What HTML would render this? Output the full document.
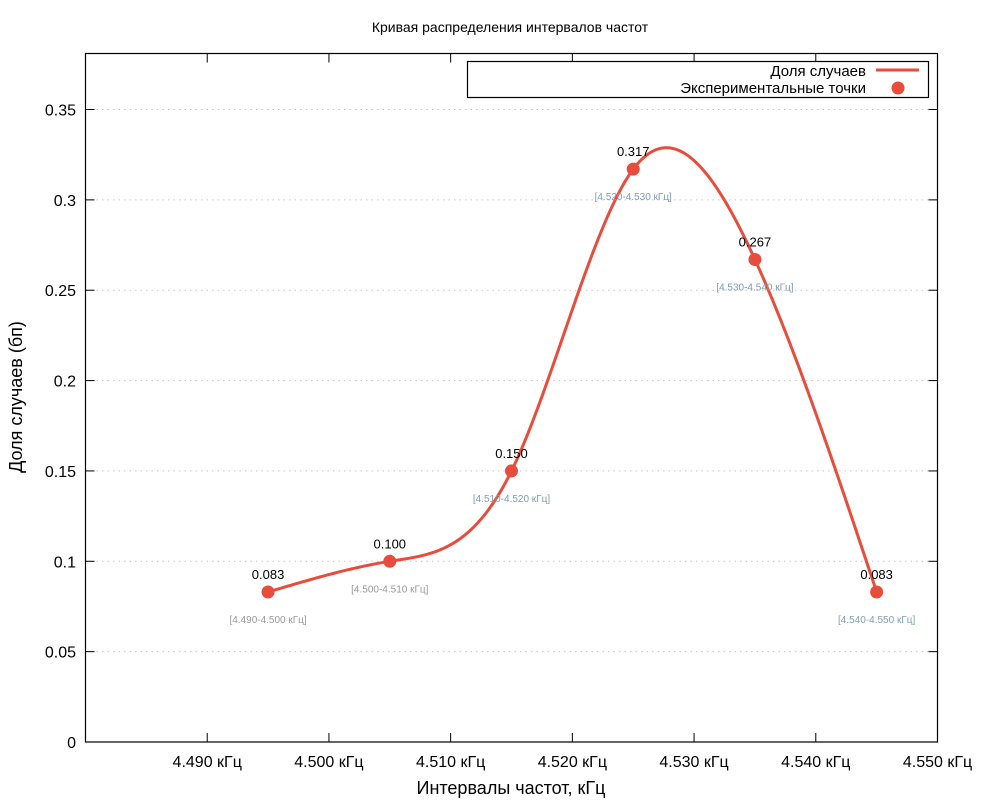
<!DOCTYPE html>
<html><head><meta charset="utf-8"><style>
body{margin:0;background:#fff;}
svg{display:block;font-family:"Liberation Sans",sans-serif;}
</style></head><body>
<svg id="c" width="1000" height="800"></svg>
<script>
const categories=["[4.490-4.500 кГц]","[4.500-4.510 кГц]","[4.510-4.520 кГц]","[4.520-4.530 кГц]","[4.530-4.540 кГц]","[4.540-4.550 кГц]"];
const xValues=[4.495,4.505,4.515,4.525,4.535,4.545];
const yValues=[0.083,0.100,0.150,0.317,0.267,0.083];
const valueLabels=["0.083","0.100","0.150","0.317","0.267","0.083"];
const xTicks=[4.490,4.500,4.510,4.520,4.530,4.540,4.550];
const xTickLabels=["4.490 кГц","4.500 кГц","4.510 кГц","4.520 кГц","4.530 кГц","4.540 кГц","4.550 кГц"];
const yTicks=[0,0.05,0.1,0.15,0.2,0.25,0.3,0.35];
const yTickLabels=["0","0.05","0.1","0.15","0.2","0.25","0.3","0.35"];

const L=85.5,R=937.5,T=53.5,B=742;
const X0=4.480,X1=4.550,Y0=0,Y1=0.381;
const sx=v=>L+(v-X0)/(X1-X0)*(R-L);
const sy=v=>B-(v-Y0)/(Y1-Y0)*(B-T);
const svg=document.getElementById('c');
const NS='http://www.w3.org/2000/svg';
function mk(tag,attrs,parent){const e=document.createElementNS(NS,tag);for(const k in attrs)e.setAttribute(k,attrs[k]);(parent||svg).appendChild(e);return e;}
function txt(s,attrs){const e=mk('text',attrs);e.textContent=s;return e;}

let t=txt("Кривая распределения интервалов частот",{x:510,y:32,'text-anchor':'middle','font-size':14});



yTicks.forEach((v,i)=>{
  const y=sy(v);
  if(v>0){const g=mk('line',{x1:L,x2:R,y1:y,y2:y,stroke:'#c8c8c8','stroke-dasharray':'1.5,4'});
  
  }
  mk('line',{x1:L,x2:L+9,y1:y,y2:y,stroke:'#000'});
  mk('line',{x1:R,x2:R-9,y1:y,y2:y,stroke:'#000'});
  const l=txt(yTickLabels[i],{x:76,y:y+6,'text-anchor':'end','font-size':16});
  
  
});
xTicks.forEach((v,i)=>{
  const x=sx(v);
  mk('line',{x1:x,x2:x,y1:B,y2:B-9,stroke:'#000'});
  mk('line',{x1:x,x2:x,y1:T,y2:T+9,stroke:'#000'});
  const l=txt(xTickLabels[i],{x:x,y:767,'text-anchor':'middle','font-size':16});
  
  
});
const fr=mk('rect',{x:L,y:T,width:R-L,height:B-T,fill:'none',stroke:'#000','stroke-width':1.2});



let xt=txt("Интервалы частот, кГц",{x:511,y:794,'text-anchor':'middle','font-size':18});


let yt=txt("Доля случаев (бп)",{x:0,y:0,'text-anchor':'middle','font-size':18,transform:'translate(22,397) rotate(-90)'});



// natural cubic spline
function spline(xs,ys){
  const n=xs.length,h=[],a=[],l=[1],mu=[0],z=[0],c=new Array(n).fill(0),b=[],d=[];
  for(let i=0;i<n-1;i++)h[i]=xs[i+1]-xs[i];
  for(let i=1;i<n-1;i++)a[i]=3/h[i]*(ys[i+1]-ys[i])-3/h[i-1]*(ys[i]-ys[i-1]);
  for(let i=1;i<n-1;i++){l[i]=2*(xs[i+1]-xs[i-1])-h[i-1]*mu[i-1];mu[i]=h[i]/l[i];z[i]=(a[i]-h[i-1]*z[i-1])/l[i];}
  l[n-1]=1;z[n-1]=0;
  for(let j=n-2;j>=0;j--){c[j]=z[j]-mu[j]*c[j+1];b[j]=(ys[j+1]-ys[j])/h[j]-h[j]*(c[j+1]+2*c[j])/3;d[j]=(c[j+1]-c[j])/(3*h[j]);}
  return x=>{let j=0;while(j<n-2&&x>xs[j+1])j++;const dx=x-xs[j];return ys[j]+b[j]*dx+c[j]*dx*dx+d[j]*dx*dx*dx;};
}
const f=spline(xValues,yValues);
let p='';const x0=xValues[0],x1=xValues[xValues.length-1];
for(let k=0;k<=300;k++){const xv=x0+(x1-x0)*k/300;p+=(k?'L':'M')+sx(xv).toFixed(2)+','+sy(f(xv)).toFixed(2);}
const cur=mk('path',{d:p,fill:'none',stroke:'#e84c3d','stroke-width':3});



xValues.forEach((xv,i)=>{
  const x=sx(xv),y=sy(yValues[i]);
  const c=mk('circle',{cx:x,cy:y,r:6.5,fill:'#e84c3d'});
  
  
  const v=txt(valueLabels[i],{x:x,y:y-13,'text-anchor':'middle','font-size':13});
  
  
  const s=txt(categories[i],{x:x,y:y+31,'text-anchor':'middle','font-size':10,fill:i<2?'#999':'#7f9db3'});
  
  
});

// legend
const lg=mk('g',{});


mk('rect',{x:467.5,y:61.5,width:461,height:36,fill:'#fff',stroke:'#000','stroke-width':1.2},lg);
const t1=mk('text',{x:866,y:76,'text-anchor':'end','font-size':15},lg);t1.textContent="Доля случаев";


mk('line',{x1:876,x2:919,y1:70,y2:70,stroke:'#e84c3d','stroke-width':3},lg);
const t2=mk('text',{x:866,y:93,'text-anchor':'end','font-size':15},lg);t2.textContent="Экспериментальные точки";


mk('circle',{cx:898,cy:88,r:6.5,fill:'#e84c3d'},lg);
</script>
</body></html>
